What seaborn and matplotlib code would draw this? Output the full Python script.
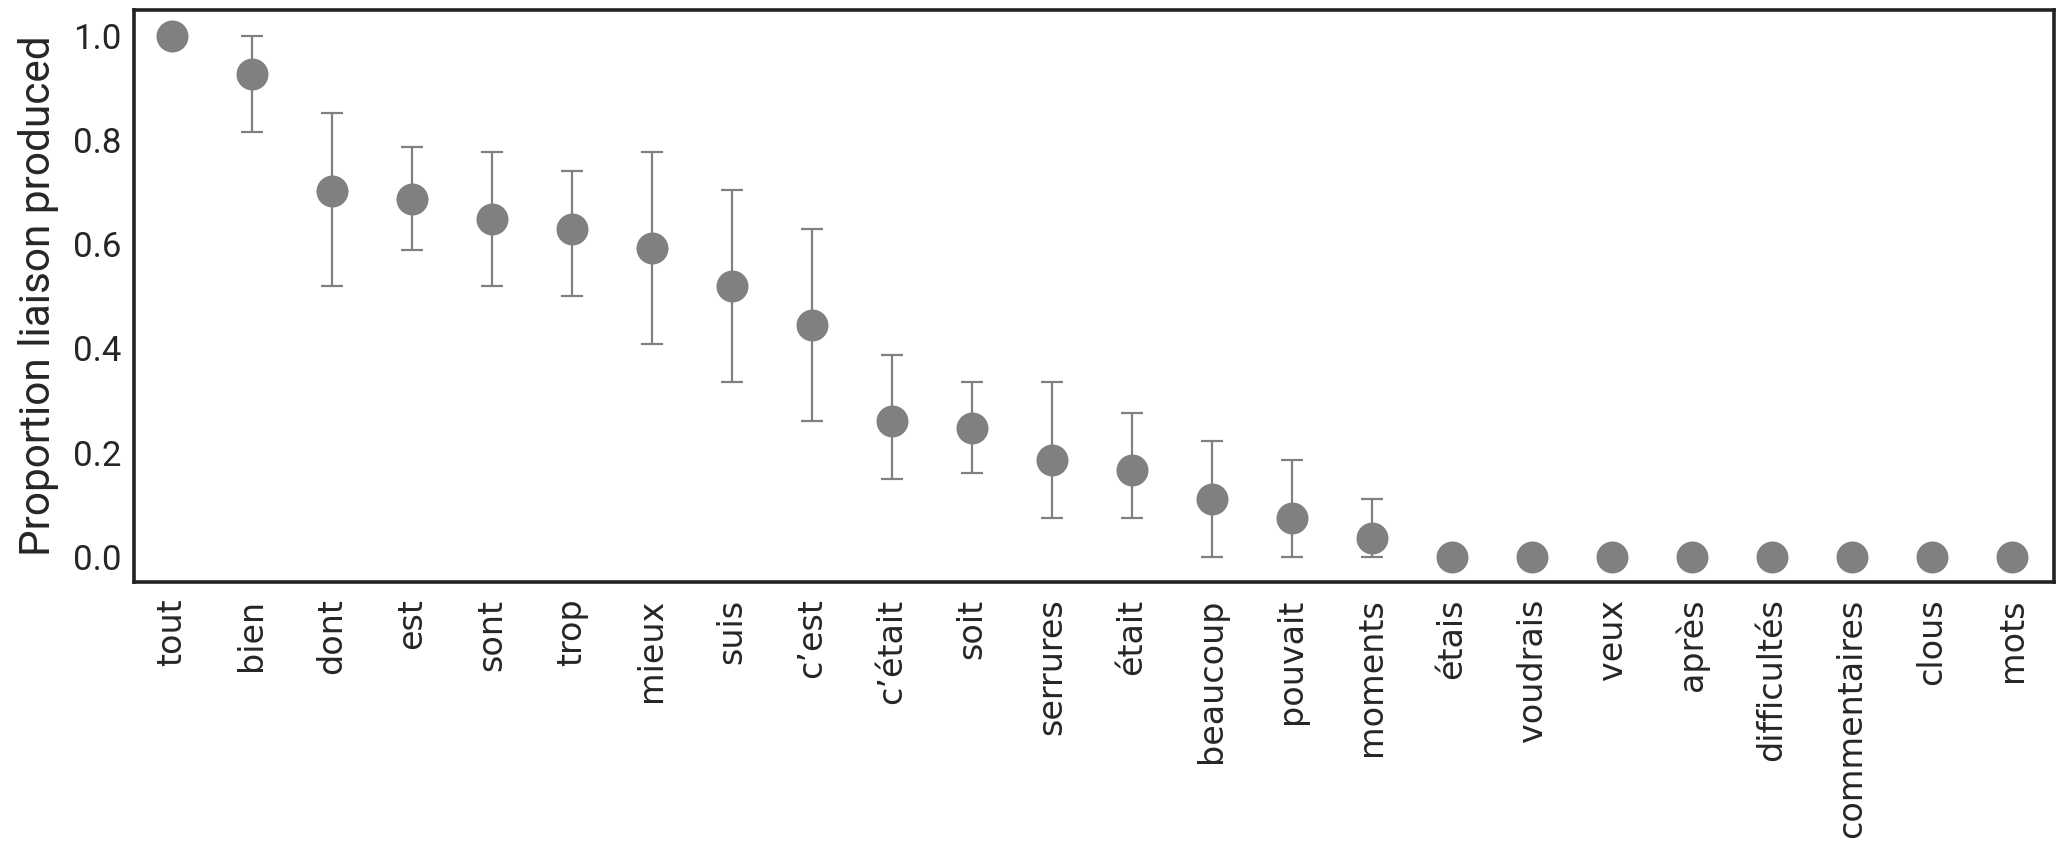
import numpy as np
import pandas as pd
import matplotlib
matplotlib.use("Agg")
import matplotlib.pyplot as plt
import seaborn as sns

words = ["tout", "bien", "dont", "est", "sont", "trop", "mieux", "suis", "c’est",
         "c’était", "soit", "serrures", "était", "beaucoup", "pouvait", "moments",
         "étais", "voudrais", "veux", "après", "difficultés", "commentaires", "clous", "mots"]
proportion = [1.0, 0.927, 0.703, 0.687, 0.648, 0.630, 0.592, 0.519, 0.445,
              0.260, 0.248, 0.185, 0.167, 0.111, 0.075, 0.037,
              0.0, 0.0, 0.0, 0.0, 0.0, 0.0, 0.0, 0.0]
ci_low = [1.0, 0.815, 0.520, 0.588, 0.520, 0.500, 0.408, 0.335, 0.260,
          0.149, 0.161, 0.074, 0.074, 0.0, 0.0, 0.0,
          0.0, 0.0, 0.0, 0.0, 0.0, 0.0, 0.0, 0.0]
ci_high = [1.0, 1.0, 0.851, 0.787, 0.777, 0.741, 0.777, 0.704, 0.629,
           0.388, 0.335, 0.335, 0.277, 0.223, 0.185, 0.112,
           0.0, 0.0, 0.0, 0.0, 0.0, 0.0, 0.0, 0.0]

df = pd.DataFrame({"word": words, "prop": proportion, "lo": ci_low, "hi": ci_high})

sns.set_theme(style="white")
plt.rcParams["font.family"] = ["DejaVu Sans"]

fig = plt.figure(figsize=(20.62, 8.52), dpi=100)
ax = fig.add_axes([0.065, 0.317, 0.931, 0.671])

grey = "#808080"
pos = np.arange(len(df))
ax.errorbar(pos, df["prop"],
            yerr=[df["prop"] - df["lo"], df["hi"] - df["prop"]],
            fmt="none", ecolor=grey, elinewidth=1.6, capsize=8, capthick=1.6, zorder=1)
sns.pointplot(data=df, x="word", y="prop", order=words, color=grey,
              linestyle="none", errorbar=None, markersize=21, ax=ax, zorder=3)
for coll in ax.collections:
    coll.set_zorder(3)
for ln in ax.lines:
    ln.set_zorder(3)

ax.set_xlim(-0.47, len(words) - 0.48)
ax.set_ylim(-0.048, 1.049)
ax.set_yticks([0.0, 0.2, 0.4, 0.6, 0.8, 1.0])
ax.set_yticklabels(["0.0", "0.2", "0.4", "0.6", "0.8", "1.0"], family="Roboto", fontsize=25)
ax.set_xticks(pos)
ax.set_xticklabels(words, rotation=90, fontsize=24, va="top")
ax.tick_params(axis="x", pad=12, length=0)
ax.tick_params(axis="y", pad=9, length=0)
ax.set_xlabel("")
ax.set_ylabel("Proportion liaison produced", family="Roboto", fontsize=30.5, labelpad=10)
for sp in ax.spines.values():
    sp.set_color("#222222")
    sp.set_linewidth(2.6)

fig.savefig("out.png", dpi=100)
